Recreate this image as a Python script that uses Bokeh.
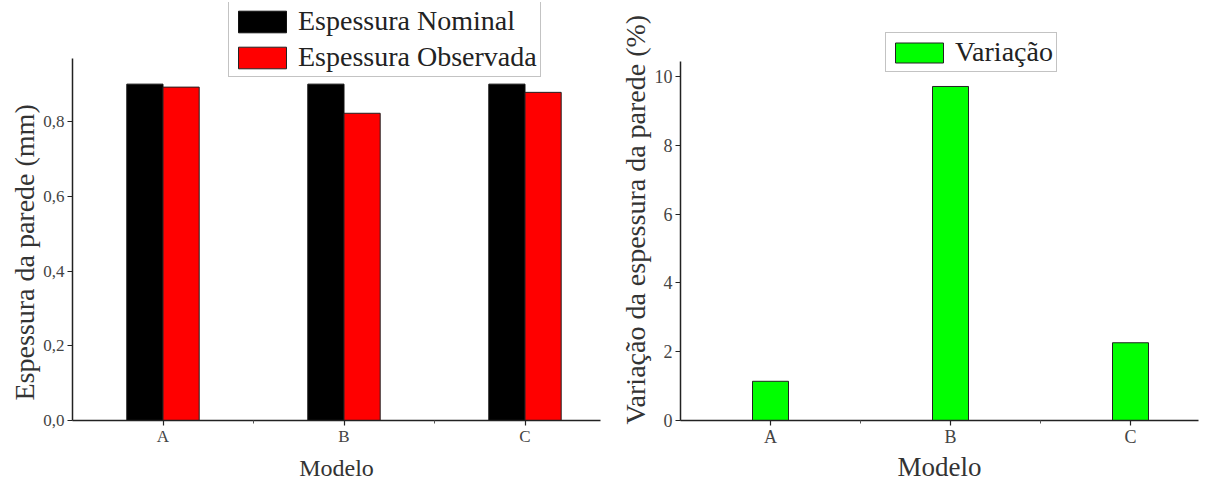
from bokeh.plotting import figure
from bokeh.layouts import row
from bokeh.models import (ColumnDataSource, Range1d, FixedTicker, Legend, LegendItem,
                          CustomJSTickFormatter, Title)
from bokeh.transform import dodge
from bokeh.embed import file_html
from bokeh.resources import INLINE

# ---- data ----
modelos = ["A", "B", "C"]
espessura_nominal = [0.900, 0.900, 0.900]
espessura_observada = [0.892, 0.822, 0.878]
variacao = [1.14, 9.71, 2.26]
y_ticks_left = [0.0, 0.2, 0.4, 0.6, 0.8]
y_ticks_right = [0, 2, 4, 6, 8, 10]

FONT = "Liberation Serif"
xpos = list(range(1, len(modelos) + 1))
overrides = {i: m for i, m in zip(xpos, modelos)}

src = ColumnDataSource(dict(x=xpos, modelo=modelos, nom=espessura_nominal,
                            obs=espessura_observada, var=variacao))

TOP = 2
FRAME_H = 420 - TOP


def style(p, tick_size):
    p.xgrid.visible = False
    p.ygrid.visible = False
    p.outline_line_color = None
    p.background_fill_color = "white"
    p.border_fill_color = "white"
    for ax in (p.xaxis[0], p.yaxis[0]):
        ax.axis_line_color = "#222222"
        ax.axis_line_width = 1.5
        ax.major_tick_line_color = "#222222"
        ax.major_tick_line_width = 1.2
        ax.major_tick_out = 5
        ax.major_tick_in = 0
        ax.minor_tick_line_color = "#555555"
        ax.minor_tick_out = 3
        ax.minor_tick_in = 0
        ax.major_label_text_font = FONT
        ax.major_label_text_font_size = tick_size
        ax.major_label_text_color = "#444444"
        ax.axis_label_text_font = FONT
        ax.axis_label_text_font_style = "normal"
        ax.axis_label_text_color = "#333333"
    p.xaxis[0].ticker = FixedTicker(ticks=xpos, minor_ticks=[1.5, 2.5])
    p.xaxis[0].major_label_overrides = overrides
    p.xaxis[0].major_label_standoff = 1
    p.yaxis[0].major_label_standoff = 3


def side_title(p, text, offset):
    t = Title(text=text, align="left", offset=offset, standoff=2,
              text_font=FONT, text_font_size="28px", text_font_style="normal",
              text_color="#333333")
    p.add_layout(t, "left")


# ---- left figure ----
p1 = figure(output_backend="svg", toolbar_location=None,
            frame_width=528, frame_height=FRAME_H,
            min_border_left=72, min_border_right=10, min_border_top=TOP, min_border_bottom=59,
            x_range=Range1d(0.5, 0.5 + 528 / 181), y_range=Range1d(0, FRAME_H / 373.75))
r_nom = p1.vbar(x=dodge("x", -0.1), top="nom", width=0.2, source=src,
                fill_color="#000000", line_color="#111111", line_width=1)
r_obs = p1.vbar(x=dodge("x", 0.1), top="obs", width=0.2, source=src,
                fill_color="#ff0000", line_color="#222222", line_width=1)
style(p1, "17px")
p1.xaxis[0].axis_label = "Modelo"
p1.xaxis[0].axis_label_text_font_size = "24px"
p1.xaxis[0].axis_label_standoff = 6
p1.yaxis[0].bounds = (0, 0.969)
p1.yaxis[0].ticker = FixedTicker(ticks=y_ticks_left, minor_ticks=[])
p1.yaxis[0].formatter = CustomJSTickFormatter(code="return tick.toFixed(1).replace('.', ',');")
side_title(p1, "Espessura da parede (mm)", 20)

leg1 = Legend(items=[LegendItem(label="Espessura Nominal", renderers=[r_nom]),
                     LegendItem(label="Espessura Observada", renderers=[r_obs])],
              location=(156, 343), orientation="vertical",
              glyph_width=60, glyph_height=27, label_height=27,
              label_text_font=FONT, label_text_font_size="28px", label_text_color="#222222",
              label_standoff=6, spacing=4, padding=3, margin=0,
              border_line_color="#888888", border_line_width=1,
              background_fill_color="white", background_fill_alpha=1.0)
p1.add_layout(leg1)

# ---- right figure ----
p2 = figure(output_backend="svg", toolbar_location=None,
            frame_width=518, frame_height=FRAME_H,
            min_border_left=70, min_border_right=10, min_border_top=TOP, min_border_bottom=59,
            x_range=Range1d(0.5, 0.5 + 518 / 180), y_range=Range1d(0, FRAME_H / 34.4))
r_var = p2.vbar(x="x", top="var", width=0.2, source=src,
                fill_color="#00ff00", line_color="#222222", line_width=1)
style(p2, "18px")
p2.xaxis[0].axis_label = "Modelo"
p2.xaxis[0].axis_label_text_font_size = "27px"
p2.xaxis[0].axis_label_standoff = 2
p2.yaxis[0].bounds = (0, 10.45)
p2.yaxis[0].ticker = FixedTicker(ticks=y_ticks_right, minor_ticks=[])
side_title(p2, "Variação da espessura da parede (%)", -4)

leg2 = Legend(items=[LegendItem(label="Variação", renderers=[r_var])],
              location=(205, 348), orientation="vertical",
              glyph_width=60, glyph_height=25, label_height=25,
              label_text_font=FONT, label_text_font_size="28px", label_text_color="#222222",
              label_standoff=6, spacing=0, padding=3, margin=0,
              border_line_color="#888888", border_line_width=1,
              background_fill_color="white", background_fill_alpha=1.0)
p2.add_layout(leg2)

layout = row(p1, p2)
open("out.html", "w").write(file_html(layout, INLINE))
